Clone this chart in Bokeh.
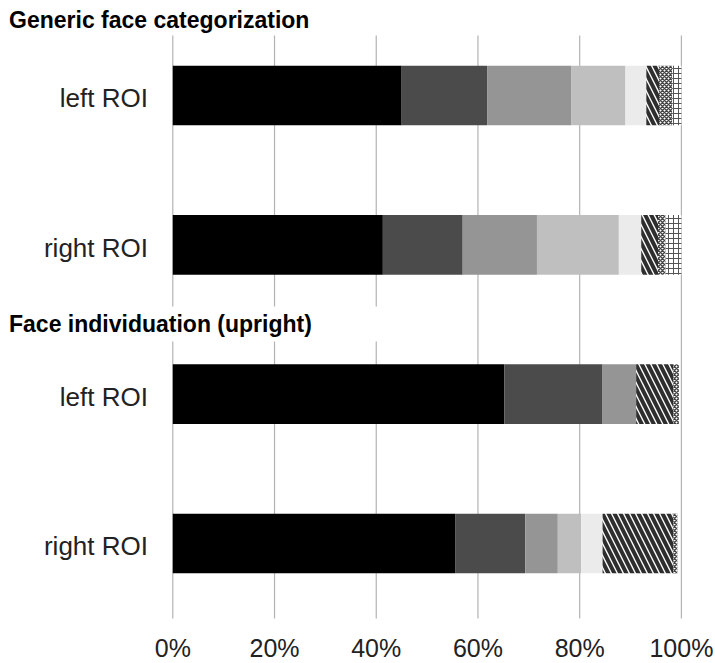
import numpy as np
from bokeh.plotting import figure
from bokeh.models import Range1d, ColumnDataSource
from bokeh.core.properties import value
from bokeh.embed import file_html
from bokeh.resources import INLINE

# Two analyses, each with a left and a right ROI bar (top to bottom)
groups = ["Generic face categorization", "Face individuation (upright)"]
rois = ["left ROI", "right ROI"]

# Share (%) of each component for the four bars:
# generic/left, generic/right, individuation/left, individuation/right
comp1 = [45.0, 41.3, 65.2, 55.6]
comp2 = [16.8, 15.7, 19.3, 13.7]
comp3 = [16.6, 14.6, 6.6, 6.4]
comp4 = [10.6, 16.1, 0.0, 4.6]
comp5 = [4.1, 4.4, 0.0, 4.2]
comp6 = [2.5, 3.3, 7.3, 13.9]
comp7 = [2.6, 1.5, 1.1, 0.8]
comp8 = [1.8, 3.1, 0.0, 0.0]

x_ticks = [0, 20, 40, 60, 80, 100]
x_tick_labels = ["0%", "20%", "40%", "60%", "80%", "100%"]

components = [comp1, comp2, comp3, comp4, comp5, comp6, comp7, comp8]
bar_labels = [roi for g in groups for roi in rois]
bar_y = np.arange(len(bar_labels))

# fill / hatch per component
styles = [
    dict(fill_color="#000000"),
    dict(fill_color="#4b4b4b"),
    dict(fill_color="#959595"),
    dict(fill_color="#bfbfbf"),
    dict(fill_color="#ebebeb"),
    dict(fill_color="white", hatch_pattern="left_diagonal_line",
         hatch_color="#2e2e2e", hatch_scale=12, hatch_weight=4),
    dict(fill_color="white", hatch_pattern="diagonal_cross",
         hatch_color="#444444", hatch_scale=4, hatch_weight=1.5),
    dict(fill_color="white", hatch_pattern="cross",
         hatch_color="#555555", hatch_scale=5, hatch_weight=1),
]

FONT = "Liberation Sans"

# the plotting frame fills the whole canvas; labels are drawn as text glyphs
p = figure(
    width=715, height=663,
    x_range=Range1d(-33.877, 106.705), y_range=Range1d(3.8036, -0.6362),
    output_backend="svg", toolbar_location=None,
    min_border=0,
)
p.axis.visible = False
p.grid.visible = False
p.outline_line_color = None
p.background_fill_color = "white"
p.border_fill_color = "white"

# vertical gridlines at the percentage ticks
grid_top, grid_bottom = -0.402, 3.502
p.segment(x0=x_ticks, x1=x_ticks, y0=[grid_top] * len(x_ticks),
          y1=[grid_bottom] * len(x_ticks), line_color="#b3b3b3", line_width=1.2)

# stacked horizontal bars
data = np.array(components)
right_edges = np.cumsum(data, axis=0)
left_edges = right_edges - data
for k, st in enumerate(styles):
    keep = data[k] > 0
    src = ColumnDataSource(dict(
        y=bar_y[keep], left=left_edges[k][keep], right=right_edges[k][keep]))
    p.hbar(y="y", left="left", right="right", height=0.4, source=src,
           line_color=None, **st)

# white strip behind the second heading so gridlines break around it
p.quad(left=-33, right=45, top=1.413, bottom=1.647,
       fill_color="white", line_color=None)

# group headings
p.text(x=[-32.2, -32.2], y=[-0.506, 1.532], text=groups,
       text_font=value(FONT), text_font_style="bold",
       text_font_size=value("23px"), text_color="#000000",
       text_baseline="alphabetic", text_align="left")

# ROI labels
p.text(x=[-4.88] * len(bar_y), y=bar_y + 0.02, text=bar_labels,
       text_font=value(FONT), text_font_size=value("26px"),
       text_color="#222222", text_baseline="alphabetic", text_align="right")

# percentage tick labels
p.text(x=x_ticks, y=[3.70] * len(x_ticks), text=x_tick_labels,
       text_font=value(FONT), text_font_size=value("25px"),
       text_color="#222222", text_baseline="alphabetic", text_align="center")

open("out.html", "w").write(file_html(p, INLINE))
